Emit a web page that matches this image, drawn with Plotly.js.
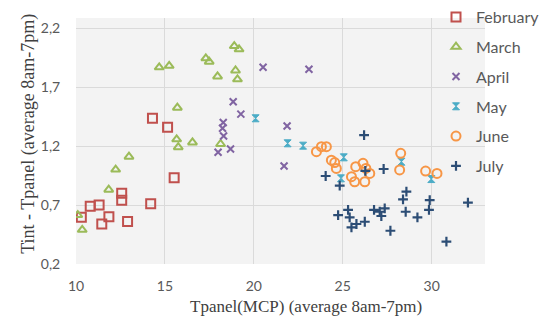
<!DOCTYPE html>
<html>
<head>
<meta charset="utf-8">
<script src="https://cdn.plot.ly/plotly-3.0.1.min.js"></script>
<style>html,body{margin:0;padding:0;background:#fff;}#chart{width:545px;height:325px;}</style>
</head>
<body>
<div id="chart"></div>
<script>
var seriesNames = ["February", "March", "April", "May", "June", "July"];

var febX = [10.3, 10.8, 11.3, 11.45, 11.85, 12.57, 12.57, 12.9, 14.2, 15.52, 14.3, 15.15];
var febY = [0.596, 0.69, 0.70, 0.54, 0.60, 0.80, 0.74, 0.56, 0.71, 0.93, 1.435, 1.36];

var marX = [10.1, 10.35, 11.84, 12.23, 12.98, 14.68, 15.24, 15.66, 15.75, 15.7, 16.55, 17.3, 17.49, 17.96, 18.13, 18.9, 19.17, 18.97, 19.08];
var marY = [0.615, 0.49, 0.83, 1.0, 1.11, 1.867, 1.88, 1.257, 1.19, 1.525, 1.23, 1.943, 1.915, 1.79, 1.217, 2.047, 2.02, 1.84, 1.765];

var aprX = [18.28, 18.24, 18.3, 17.99, 18.69, 18.84, 19.27, 20.52, 23.1, 21.87, 21.7];
var aprY = [1.40, 1.35, 1.285, 1.147, 1.175, 1.575, 1.47, 1.867, 1.85, 1.37, 1.03];

var mayX = [20.1, 21.9, 22.77, 25.06, 24.9, 28.3, 29.98];
var mayY = [1.435, 1.223, 1.203, 1.104, 0.926, 1.067, 0.92];

var junX = [23.52, 23.8, 24.08, 24.36, 24.55, 24.64, 25.49, 25.67, 25.73, 26.14, 26.3, 26.52, 26.24, 28.26, 28.2, 29.66, 30.3];
var junY = [1.152, 1.194, 1.194, 1.08, 1.06, 1.01, 0.94, 0.897, 1.025, 1.053, 1.01, 0.968, 0.897, 1.138, 0.997, 0.988, 0.968];

var julX = [26.2, 26.27, 27.3, 24.04, 24.83, 28.58, 28.39, 29.89, 29.85, 32.04, 24.74, 25.3, 25.39, 25.49, 25.77, 26.24, 26.76, 27.08, 27.17, 27.36, 28.54, 29.2, 27.68, 30.83];
var julY = [1.293, 0.99, 1.005, 0.946, 0.864, 0.813, 0.748, 0.742, 0.658, 0.72, 0.615, 0.658, 0.596, 0.511, 0.539, 0.558, 0.658, 0.643, 0.607, 0.672, 0.643, 0.596, 0.482, 0.389];

var xTickVals = [10, 15, 20, 25, 30];
var yTickVals = [0.2, 0.7, 1.2, 1.7, 2.2];
var xTitle = "Tpanel(MCP) (average 8am-7pm)";
var yTitle = "Tint - Tpanel (average 8am-7pm)";

var xs = [febX, marX, aprX, mayX, junX, julX];
var ys = [febY, marY, aprY, mayY, junY, julY];
var colors = ["#c0504d", "#9bbb59", "#8064a2", "#4bacc6", "#f79646", "#2c4d75"];
var symbols = ["square-open", "triangle-up-open", "x-thin-open", "hourglass", "circle-open", "cross-thin-open"];
var sizes = [9, 8, 7, 7, 9, 7];
var widths = [2, 2, 2, 1, 2, 2.2];

var traces = seriesNames.map(function (n, i) {
  return {
    type: "scatter", mode: "markers", name: n,
    x: xs[i], y: ys[i],
    legendgroup: "g" + i,
    marker: {
      symbol: symbols[i], size: sizes[i], color: colors[i],
      line: {color: colors[i], width: widths[i]}
    },
    hoverinfo: "x+y"
  };
});

var serif = "'Liberation Serif', 'Times New Roman', serif";
var sans = "Lato, 'Open Sans', sans-serif";

var layout = {
  width: 545, height: 325,
  margin: {l: 76, r: 60, t: 18, b: 61, autoexpand: false},
  paper_bgcolor: "#ffffff",
  plot_bgcolor: "#f3f3f3",
  separators: ",.",
  showlegend: true,
  legend: {
    xref: "container", yref: "container",
    x: 0.8, xanchor: "left", y: 1.03, yanchor: "top",
    bgcolor: "rgba(0,0,0,0)",
    font: {family: sans, size: 16, color: "#595959"},
    traceorder: "grouped", tracegroupgap: 6,
    itemwidth: 30, maxheight: 400
  },
  xaxis: {
    range: [10, 33], tickvals: xTickVals, ticktext: xTickVals.map(String),
    showgrid: true, gridcolor: "#dadada", gridwidth: 1,
    zeroline: false, showline: false, automargin: false,
    ticks: "outside", ticklen: 9, tickcolor: "rgba(0,0,0,0)",
    tickfont: {family: sans, size: 14, color: "#595959"}
  },
  yaxis: {
    range: [0.2, 2.285], tickvals: yTickVals, ticktext: yTickVals.map(function (v) { return v.toFixed(1).replace(".", ","); }),
    showgrid: true, gridcolor: "#dadada", gridwidth: 1,
    zeroline: false, showline: false, automargin: false,
    ticks: "outside", ticklen: 12, tickcolor: "rgba(0,0,0,0)",
    tickfont: {family: sans, size: 14, color: "#595959"}
  },
  annotations: [
    {text: xTitle, xref: "paper", yref: "paper", x: 0.562, y: -0.172, xanchor: "center", yanchor: "middle",
     showarrow: false, font: {family: serif, size: 17, color: "#404040"}},
    {text: yTitle, xref: "paper", yref: "paper", x: -0.117, y: 0.53, xanchor: "center", yanchor: "middle",
     textangle: -90, showarrow: false, font: {family: serif, size: 18, color: "#404040"}}
  ]
};

Plotly.newPlot("chart", traces, layout, {displayModeBar: false, staticPlot: true});
</script>
</body>
</html>
